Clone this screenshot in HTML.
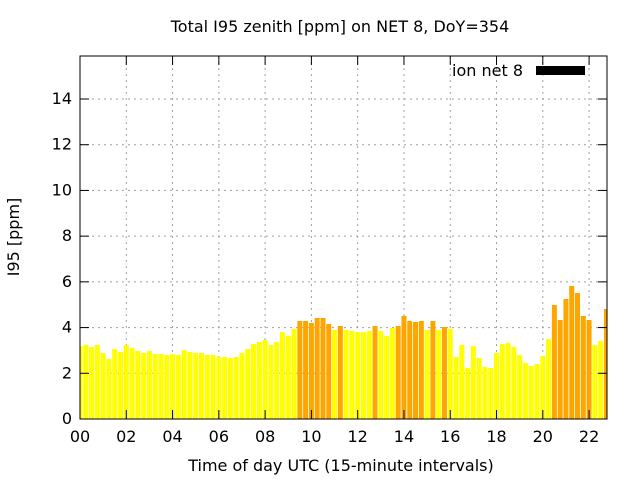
<!DOCTYPE html>
<html><head><meta charset="utf-8"><style>body{margin:0;background:#fff}svg{display:block}text{font-family:"DejaVu Sans","Liberation Sans",sans-serif;fill:#000}</style></head>
<body>
<svg id="s" width="640" height="480" xmlns="http://www.w3.org/2000/svg">
<rect width="640" height="480" fill="#fff"/>
<g id="grid" stroke="#a0a0a0" stroke-width="1" stroke-dasharray="2,4"></g>
<g id="bars"></g>
<g id="ticks" stroke="#000" stroke-width="1"></g>
<rect x="80" y="56" width="527" height="363" fill="none" stroke="#000" stroke-width="1"/>
<text x="340" y="32" font-size="16" text-anchor="middle">Total I95 zenith [ppm] on NET 8, DoY=354</text>
<text x="341" y="471" font-size="16" text-anchor="middle">Time of day UTC (15-minute intervals)</text>
<text transform="translate(19,237) rotate(-90)" font-size="16" text-anchor="middle">I95 [ppm]</text>
<text x="523" y="76" font-size="16" text-anchor="end">ion net 8</text>
<rect x="536" y="66" width="49" height="9" fill="#000"/>
<g id="lab" font-size="16"></g>
</svg>
<script>
var ys=[346,345,347,345,353,359,349,352,345,348,351,353,351,354,354,355,354,355,350,352,353,353,355,355,357,357,358,357,353,349,344,342,340,345,342,332,336,329,321,321,323,318,318,324,330,326,330,331,332,332,331,326,331,336,328,326,316,321,322,321,330,321,330,327,329,357,345,368,346,358,367,368,353,344,343,347,355,363,366,364,356,339,305,320,299,286,293,316,320,345,341,309];
var orange=[38,39,40,41,42,43,45,51,55,56,57,58,59,61,63,82,83,84,85,86,87,88,91];
var ns="http://www.w3.org/2000/svg";
function el(p,t,a){var e=document.createElementNS(ns,t);for(var k in a)e.setAttribute(k,a[k]);p.appendChild(e);return e;}
var B=document.getElementById('bars');
for(var i=0;i<ys.length;i++){var c=80+i*5.785;var x0=Math.max(80,c-2.5),x1=Math.min(607,c+2.5);
el(B,'rect',{x:x0,y:ys[i],width:x1-x0,height:419-ys[i],fill:orange.indexOf(i)>=0?'#ffa500':'#ffff00'});}
var G=document.getElementById('grid'),T=document.getElementById('ticks'),L=document.getElementById('lab');
for(var v=0;v<=14;v+=2){var y=419-v*22.857;
if(v>0)el(G,'line',{x1:80,y1:y,x2:607,y2:y});
el(T,'line',{x1:80,y1:y,x2:89,y2:y});el(T,'line',{x1:607,y1:y,x2:598,y2:y});
var t=el(L,'text',{x:72,y:y+5,'text-anchor':'end'});t.textContent=v;}
for(var h=0;h<=22;h+=2){var x=80+h*23.14;
if(h>0)el(G,'line',{x1:x,y1:56,x2:x,y2:419});
el(T,'line',{x1:x,y1:419,x2:x,y2:410});el(T,'line',{x1:x,y1:56,x2:x,y2:65});
var t=el(L,'text',{x:x,y:442,'text-anchor':'middle'});t.textContent=(h<10?'0':'')+h;}
</script>
</body></html>
